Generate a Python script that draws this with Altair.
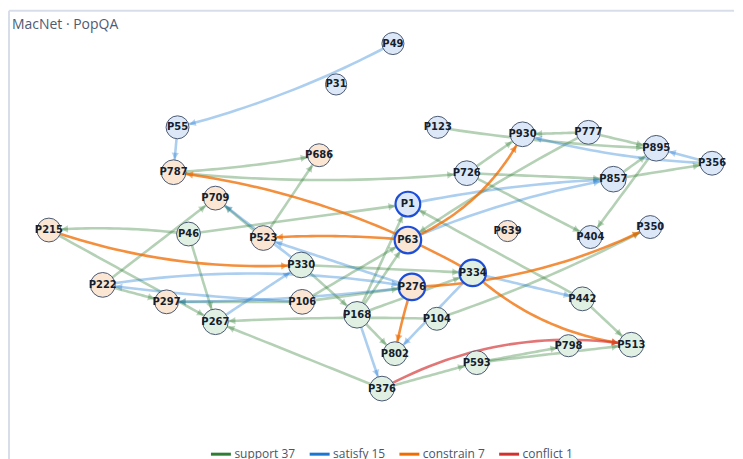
import math
import numpy as np
import pandas as pd
import altair as alt

# ---------------- data ----------------
node_names = ["P49", "P31", "P55", "P787", "P686", "P709", "P215", "P46", "P523", "P330",
              "P222", "P297", "P267", "P106", "P168", "P123", "P930", "P777", "P895", "P356",
              "P726", "P857", "P1", "P63", "P639", "P404", "P350", "P334", "P276", "P104",
              "P442", "P802", "P513", "P798", "P593", "P376"]
node_x = [393, 336, 177, 173, 319, 215, 48, 188, 263, 301,
          102, 166, 215, 302, 357, 438, 523, 589, 657, 713,
          467, 614, 408, 408, 508, 591, 651, 473, 412, 437,
          583, 395, 632, 569, 477, 382]
node_y = [42, 83, 126, 171, 154, 197, 229, 233, 237, 264,
          284, 301, 321, 301, 314, 126, 133, 131, 147, 162,
          172, 178, 203, 239, 230, 236, 226, 272, 286, 318,
          298, 353, 344, 345, 362, 388]
node_kind = ["entity", "entity", "entity", "claim", "claim", "claim", "claim", "evidence", "claim", "evidence",
             "claim", "claim", "evidence", "claim", "evidence", "entity", "entity", "entity", "entity", "entity",
             "entity", "entity", "entity", "claim", "claim", "entity", "entity", "evidence", "claim", "evidence",
             "evidence", "evidence", "evidence", "evidence", "evidence", "evidence"]
focus_nodes = ["P1", "P63", "P276", "P334"]

support_edges = [("P787", "P686"), ("P787", "P726"), ("P726", "P857"), ("P726", "P930"), ("P726", "P404"),
                 ("P46", "P215"), ("P46", "P267"), ("P46", "P1"), ("P222", "P709"), ("P523", "P686"),
                 ("P523", "P709"), ("P215", "P267"), ("P222", "P297"), ("P106", "P297"), ("P104", "P267"),
                 ("P376", "P267"), ("P330", "P168"), ("P106", "P63"), ("P168", "P63"), ("P168", "P1"),
                 ("P168", "P334"), ("P330", "P334"), ("P168", "P802"), ("P104", "P350"), ("P376", "P593"),
                 ("P593", "P798"), ("P593", "P513"), ("P442", "P513"), ("P442", "P1"), ("P777", "P63"),
                 ("P777", "P930"), ("P123", "P895"), ("P777", "P895"), ("P857", "P895"), ("P895", "P404"),
                 ("P857", "P356"), ("P106", "P276")]
satisfy_edges = [("P49", "P55"), ("P55", "P787"), ("P356", "P895"), ("P356", "P930"), ("P1", "P857"),
                 ("P63", "P857"), ("P330", "P709"), ("P276", "P523"), ("P222", "P276"), ("P276", "P297"),
                 ("P106", "P222"), ("P267", "P330"), ("P168", "P376"), ("P334", "P802"), ("P334", "P442")]
constrain_edges = [("P334", "P787"), ("P334", "P513"), ("P215", "P330"), ("P63", "P523"),
                   ("P63", "P930"), ("P276", "P350"), ("P276", "P802")]
conflict_edges = [("P376", "P513")]

# ---------------- style ----------------
W, H = 727, 470
X0, Y0 = 8, 9
FRAME = "#d7deea"
TYPES = ["support", "satisfy", "constrain", "conflict"]
TYPE_COLORS = ["#2e7d32", "#1976d2", "#ef6c00", "#d32f2f"]
TYPE_OPACITY = {"support": 0.36, "satisfy": 0.36, "constrain": 0.76, "conflict": 0.66}
KINDS = ["entity", "claim", "evidence"]
KIND_FILLS = ["#dce8f7", "#fae6d3", "#e0f1e4"]
# signed curvature of the drawn arcs (fraction of edge length)
CURVE = {("P49", "P55"): -0.06, ("P356", "P930"): -0.06, ("P1", "P857"): -0.04, ("P63", "P857"): -0.06,
         ("P222", "P276"): -0.08, ("P276", "P297"): -0.03, ("P106", "P222"): -0.02,
         ("P334", "P787"): 0.1, ("P334", "P513"): 0.16, ("P215", "P330"): 0.1, ("P63", "P523"): 0.04,
         ("P63", "P930"): 0.18, ("P276", "P350"): 0.11, ("P276", "P802"): 0.03,
         ("P376", "P513"): -0.17, ("P787", "P686"): 0.03, ("P787", "P726"): 0.05,
         ("P46", "P215"): 0.05, ("P123", "P895"): 0.03, ("P104", "P350"): 0.04,
         ("P104", "P267"): 0.02, ("P777", "P63"): 0.03}

# ---------------- build tables ----------------
pos = {n: (x, y) for n, x, y in zip(node_names, node_x, node_y)}
edge_sets = [support_edges, satisfy_edges, constrain_edges, conflict_edges]
deg = {n: 0 for n in node_names}
for es in edge_sets:
    for s, t in es:
        deg[s] += 1
        deg[t] += 1
radius = {n: 10.6 + 0.45 * min(deg[n], 6) for n in node_names}

labels = [f"{t} {len(es)}" for t, es in zip(TYPES, edge_sets)]

line_rows, arrow_rows = [], []
N = 30
eid = 0
for etype, lab, es in zip(TYPES, labels, edge_sets):
    for s, t in es:
        p0 = np.array(pos[s], float)
        p2 = np.array(pos[t], float)
        d = p2 - p0
        perp = np.array([-d[1], d[0]])
        c = (p0 + p2) / 2 + CURVE.get((s, t), 0.0) * perp

        def bez(u):
            return (1 - u) ** 2 * p0 + 2 * (1 - u) * u * c + u ** 2 * p2

        op = TYPE_OPACITY[etype]
        for i in range(N + 1):
            u = i / N
            b = bez(u)
            line_rows.append(dict(eid=eid, type=etype, lab=lab, op=op, i=i, x=b[0], y=b[1]))
        # arrow head just outside the target circle
        target = radius[t] + 4.0
        lo, hi = 0.3, 1.0
        for _ in range(40):
            mid = (lo + hi) / 2
            if np.linalg.norm(bez(mid) - p2) > target:
                lo = mid
            else:
                hi = mid
        u = lo
        b = bez(u)
        tan = 2 * (1 - u) * (c - p0) + 2 * u * (p2 - c)
        ang = math.degrees(math.atan2(tan[0], -tan[1])) % 360
        arrow_rows.append(dict(eid=eid, type=etype, lab=lab, op=min(1.0, op + 0.1), x=b[0], y=b[1], ang=ang))
        eid += 1

lines = pd.DataFrame(line_rows)
arrows = pd.DataFrame(arrow_rows)
nodes = pd.DataFrame(dict(name=node_names, x=node_x, y=node_y, kind=node_kind))
nodes["focus"] = np.where(nodes["name"].isin(focus_nodes), "yes", "no")
nodes["sz"] = [(2 * radius[n]) ** 2 for n in node_names]

xs = alt.Scale(domain=[X0, X0 + W], nice=False, zero=False)
ys = alt.Scale(domain=[Y0, Y0 + H], nice=False, zero=False, reverse=True)
X = alt.X("x:Q", scale=xs, axis=None)
Y = alt.Y("y:Q", scale=ys, axis=None)
color = alt.Color(
    "lab:N",
    scale=alt.Scale(domain=labels, range=TYPE_COLORS),
    legend=alt.Legend(orient="none", legendX=201, legendY=433, direction="horizontal", title=None,
                      symbolType="stroke", symbolStrokeWidth=3, symbolSize=400, symbolOpacity=1,
                      labelFontSize=12, labelFont="Open Sans", labelColor="#4b5567",
                      columnPadding=7, labelOffset=2),
)

frame_data = pd.DataFrame({"k": [0]})
frame_left = alt.Chart(frame_data).mark_rule(color=FRAME, strokeWidth=2).encode(
    x=alt.value(0), y=alt.value(0), y2=alt.value(H)
)
frame_top = alt.Chart(frame_data).mark_rule(color=FRAME, strokeWidth=2).encode(
    x=alt.value(0), x2=alt.value(W), y=alt.value(0)
)

edge_layer = alt.Chart(lines).mark_line(strokeWidth=2.6, strokeCap="round").encode(
    x=X, y=Y, detail="eid:N", order="i:Q", color=color,
    strokeOpacity=alt.StrokeOpacity("op:Q", scale=None, legend=None),
)
arrow_layer = alt.Chart(arrows).mark_point(shape="triangle-up", filled=True, size=55).encode(
    x=X, y=Y, angle=alt.Angle("ang:Q", scale=None),
    color=alt.Color("lab:N", scale=alt.Scale(domain=labels, range=TYPE_COLORS), legend=None),
    fillOpacity=alt.FillOpacity("op:Q", scale=None, legend=None),
)
node_layer = alt.Chart(nodes).mark_point(shape="circle", filled=True, opacity=1).encode(
    x=X, y=Y,
    size=alt.Size("sz:Q", scale=None, legend=None),
    fill=alt.Fill("kind:N", scale=alt.Scale(domain=KINDS, range=KIND_FILLS), legend=None),
    stroke=alt.Stroke("focus:N", scale=alt.Scale(domain=["no", "yes"], range=["#4a5872", "#1d4ed8"]), legend=None),
    strokeWidth=alt.StrokeWidth("focus:N", scale=alt.Scale(domain=["no", "yes"], range=[1.0, 2.2]), legend=None),
)
label_layer = alt.Chart(nodes).mark_text(font="DejaVu Sans", fontWeight="bold", fontSize=10,
                                         color="#161e2e", baseline="middle", align="center").encode(
    x=X, y=Y, text="name:N"
)
title_layer = alt.Chart(pd.DataFrame({"t": ["MacNet · PopQA"]})).mark_text(
    align="left", baseline="alphabetic", fontSize=14, font="Open Sans", color="#4f5b72"
).encode(x=alt.value(3), y=alt.value(18), text="t:N")

chart = alt.layer(frame_left, frame_top, edge_layer, arrow_layer, node_layer, label_layer, title_layer).properties(
    width=W, height=H, padding={"left": 0, "top": 1, "right": 0, "bottom": 0}
).configure_view(stroke=None).resolve_scale(color="shared")

chart.save("out.html", embed_options={"renderer": "svg", "actions": False})
